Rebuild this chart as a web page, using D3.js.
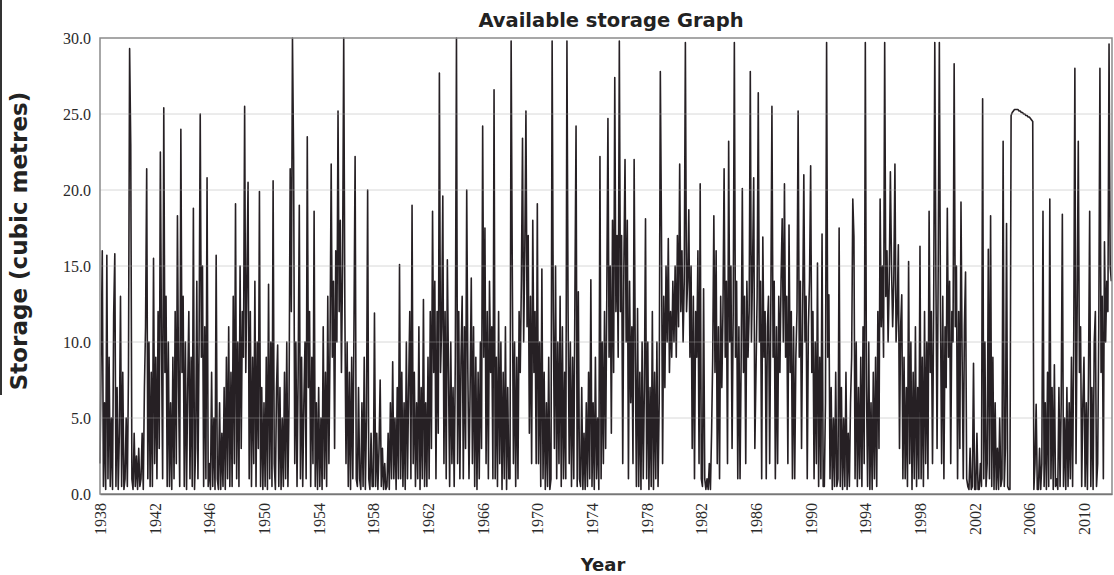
<!DOCTYPE html>
<html>
<head>
<meta charset="utf-8">
<script src="https://cdn.jsdelivr.net/npm/d3@7"></script>
<style>
    body { margin: 0; background: #fff; }
    svg { display: block; }
    .axes text { font-family: "Liberation Serif", "Times New Roman", serif; font-size: 16px; fill: #2a2a2a; }
    .axes-label { font-family: "DejaVu Sans", Verdana, sans-serif; font-weight: bold; fill: #222; }
</style>
</head>
<body>
<div id="vis"></div>
<script>
// monthly storage readings, one row per year
var firstYear = 1938;
var pointsPerYear = 12;

var storage1938to1947 = [
    [2, 9, 16, 0.5, 6, 0.3, 15.7, 1, 9, 0.5, 5, 0.3],
    [11.8, 15.8, 0.5, 7, 0.3, 4, 13, 0.5, 8, 0.3, 1, 5],
    [0.5, 8, 29.3, 23, 1, 0.3, 4, 0.5, 2.5, 0.3, 3, 0.5],
    [1, 4, 0.3, 7, 11, 21.4, 1, 10, 0.5, 8, 0.5, 15.5],
    [2, 9, 1, 12, 3, 22.5, 10, 1, 25.4, 8, 13, 0.5],
    [10, 0.5, 6, 0.3, 9, 1, 12, 2, 18.3, 7, 0.5, 24],
    [8, 13, 0.5, 10, 0.3, 7, 12, 1, 9, 0.5, 18.8, 0.3],
    [3, 14, 1, 10, 25, 9, 15, 0.5, 11, 1, 20.8, 0.5],
    [2, 0.3, 8, 0.5, 5, 0.3, 15.7, 1, 0.3, 6, 0.3, 4],
    [0.5, 7, 0.3, 9, 1, 11, 0.5, 8, 0.5, 13, 2, 19.1]
];
var storage1948to1957 = [
    [1, 10, 0.5, 15, 3, 12, 9, 25.5, 8, 14, 20.5, 1],
    [12, 0.5, 9, 2, 14, 0.5, 10, 3, 19.9, 0.5, 7, 0.3],
    [6, 0.5, 9, 0.3, 13.8, 1, 10, 0.5, 20.6, 2, 0.3, 7],
    [9.8, 0.5, 7, 0.3, 5, 0.5, 8, 1, 10, 0.5, 6, 21.4],
    [12, 30, 22, 2, 10, 0.5, 8, 19, 1, 9, 0.5, 6],
    [10, 1, 23.5, 7, 12, 0.5, 9, 2, 18.6, 0.5, 6, 0.3],
    [7, 0.5, 5, 0.3, 11, 1, 8, 0.5, 13, 2, 10, 21.7],
    [9, 14, 3, 16, 10, 25.2, 12, 18, 8, 15, 30, 12],
    [2, 10, 0.5, 8, 0.3, 9, 1, 11, 22.2, 1, 0.5, 7],
    [1, 0.3, 6, 0.5, 9, 0.3, 5, 20, 1, 0.3, 4, 0.5]
];
var storage1958to1967 = [
    [0.5, 11.9, 0.5, 4, 0.3, 3, 7.5, 0.5, 3, 0.3, 2, 0.3],
    [0.5, 4, 0.3, 6, 1, 8.7, 1, 5, 0.3, 7, 1, 15.1],
    [1, 8, 0.5, 6, 0.3, 10, 1, 7, 12, 1, 19, 2],
    [8, 0.5, 6, 1, 11, 0.3, 7, 1, 12.8, 0.5, 6, 0.5],
    [9, 1, 12, 3, 18.6, 8, 14, 1, 12, 4, 27.7, 8],
    [11, 19.6, 2, 12, 1, 15.4, 8, 0.5, 10, 2, 7, 0.5],
    [9, 30, 2, 12, 1, 9, 13, 1, 11, 3, 20, 8],
    [1, 7, 14.2, 2, 11, 0.5, 9, 0.3, 8, 1, 10, 3],
    [24.2, 9, 17.5, 2, 12, 1, 14, 8, 11, 1, 26.6, 1],
    [9, 0.5, 12, 2, 10, 0.3, 8, 1, 11, 0.3, 7, 1]
];
var storage1968to1977 = [
    [1, 29.8, 15, 2, 10, 0.5, 9, 1, 12, 8, 14, 23.4],
    [10, 16, 25.2, 11, 17, 4, 13, 2, 18, 8, 12, 2],
    [19.1, 2, 10, 0.5, 14.8, 1, 8, 0.3, 6, 0.5, 9, 0.3],
    [1, 29.8, 12, 3, 15, 1, 10, 2, 13, 0.5, 11, 1],
    [8, 1, 29.8, 12, 2, 10, 0.5, 9, 1, 13, 24.2, 0.5],
    [13.3, 1, 0.5, 7, 0.3, 4, 0.3, 6, 0.5, 8, 1, 14.1],
    [0.5, 6, 0.3, 9, 1, 5, 0.3, 22.2, 1, 10, 2, 12],
    [3, 13, 24.7, 9, 15, 4, 18, 8, 27.4, 12, 17, 9],
    [29.8, 12, 17, 2, 15, 22, 10, 18, 1, 14, 6, 11],
    [2, 22, 9, 0.5, 12.2, 0.5, 8, 0.3, 10, 1, 7, 18.1]
];
var storage1978to1987 = [
    [1, 10, 0.3, 7, 0.5, 12, 0.3, 8, 1, 10, 0.5, 6],
    [27.8, 17.3, 2, 13, 7, 15, 10, 16.8, 8, 12, 9, 14],
    [10, 15, 9, 17, 11, 21.7, 12, 16, 10, 14, 29.7, 12],
    [14, 18.7, 9, 15, 3, 13, 1, 12, 9, 16, 2, 20.4],
    [1, 0.5, 13.5, 1, 0.3, 1, 0.3, 2, 0.3, 4, 9, 18.3],
    [8, 16, 2, 11, 1, 13, 7, 12, 21.4, 9, 14, 2],
    [23.2, 10, 15, 3, 12, 29.7, 9, 14, 1, 11, 1, 9],
    [20.1, 8, 13, 2, 14, 9, 12, 27.8, 10, 15, 20.8, 3],
    [8, 13, 26.4, 10, 14, 1, 16.9, 9, 12, 1, 11, 13],
    [2, 12, 25.5, 9, 14, 1, 11, 2, 13, 8, 14, 18.1]
];
var storage1988to1997 = [
    [10, 20.4, 9, 13, 2, 17.7, 8, 12, 1, 11, 1, 9],
    [12, 25.2, 9, 14, 3, 12, 21, 10, 13, 1, 11, 14],
    [21.6, 8, 12, 1, 10, 2, 15.2, 0.5, 9, 1, 17.1, 0.5],
    [0.5, 6, 29.7, 9, 13.1, 1, 7, 0.3, 5, 0.5, 8, 0.5],
    [1, 17.5, 0.5, 7, 0.3, 5, 0.5, 8, 0.3, 4, 0.5, 6],
    [9, 19.4, 16.9, 1, 10, 0.5, 7, 1, 9, 0.5, 11, 2],
    [29.7, 7, 0.5, 10, 0.3, 6, 0.3, 8, 1, 9, 0.5, 12],
    [3, 19.4, 11, 15, 9, 29.7, 13, 16, 10, 14, 21.2, 15],
    [11, 14, 21.7, 10, 12, 16.4, 3, 11, 13.1, 1, 9, 1],
    [7, 0.5, 15.3, 2, 10, 0.3, 8, 1, 11, 0.5, 7, 1]
];
var storage1998to2007 = [
    [16.3, 1, 9, 0.5, 12, 2, 10, 1, 18.6, 8, 12, 2],
    [12, 29.7, 14, 3, 15, 29.7, 12, 2, 13, 1, 11, 7],
    [18.8, 9, 14, 2, 12, 10, 28.3, 11, 15, 1, 12, 3],
    [19.2, 9, 1, 11, 14.6, 1, 0.5, 0.3, 3, 0.3, 0.5, 8.6],
    [0.3, 0.3, 4, 0.3, 0.3, 2, 0.5, 26, 1, 10, 0.5, 2],
    [16.1, 1, 18.3, 0.5, 9, 0.3, 6, 0.3, 3, 0.3, 5, 0.5],
    [1, 23.2, 0.5, 3, 17.8, 0.5, 0.3, 0.3, 24.9, 25.1, 25.2, 25.3],
    [25.3, 25.3, 25.3, 25.2, 25.2, 25.1, 25.1, 25.0, 25.0, 24.9, 24.9, 24.8],
    [24.8, 24.7, 24.6, 24.5, 0.3, 2, 5.9, 0.3, 0.3, 3, 0.3, 2],
    [18.6, 0.5, 6, 0.3, 8, 0.5, 19.4, 1, 7, 0.3, 8.5, 0.5]
];
var storage2008to2012 = [
    [1, 0.3, 7, 0.5, 6, 18.4, 0.5, 5, 0.3, 7, 0.5, 6],
    [1, 9, 0.5, 10, 28, 2, 12, 23.2, 8, 11, 0.5, 6],
    [9, 0.5, 6, 0.3, 8, 18.6, 0.5, 7, 0.3, 10, 12, 0.5],
    [2, 11, 28, 8, 13, 1, 16.6, 10, 14, 12, 29.6, 15],
    [14]
];

var xTickYears = [1938, 1942, 1946, 1950, 1954, 1958, 1962, 1966, 1970, 1974,
    1978, 1982, 1986, 1990, 1994, 1998, 2002, 2006, 2010];
var yTickValues = [0, 5, 10, 15, 20, 25, 30];
var lastYear = 2012.05;

var rows = [].concat(storage1938to1947, storage1948to1957, storage1958to1967,
    storage1968to1977, storage1978to1987, storage1988to1997, storage1998to2007, storage2008to2012);
var values = [].concat.apply([], rows);
var data = values.map(function(v, i) {
    return { year: firstYear + i / pointsPerYear, value: v };
});

var svg = d3.select('#vis')
    .append('svg')
    .attr('width', 1114)
    .attr('height', 575);

var margin = { left: 100, right: 2, top: 38, bottom: 81 };
var width = 1114 - margin.left - margin.right;
var height = 575 - margin.top - margin.bottom;

var xScale = d3.scaleLinear().domain([firstYear, lastYear]).range([0, width]);
var yScale = d3.scaleLinear().domain([0, 30]).range([height, 0]);

var g = svg.append('g')
    .attr('transform', 'translate(' + margin.left + ',' + margin.top + ')');

// grid lines behind the series
g.selectAll('.grid')
    .data(yTickValues.slice(1, -1))
    .enter().append('line')
    .attr('class', 'grid')
    .attr('x1', 0).attr('x2', width)
    .attr('y1', function(d) { return yScale(d); })
    .attr('y2', function(d) { return yScale(d); })
    .attr('stroke', '#dcdcdc')
    .attr('stroke-width', 1);

var line = d3.line()
    .x(function(d) { return xScale(d.year); })
    .y(function(d) { return yScale(d.value); });

g.append('path')
    .datum(data)
    .attr('d', line)
    .attr('fill', 'none')
    .attr('stroke', '#262024')
    .attr('stroke-width', 1.6)
    .attr('stroke-linejoin', 'round');

// light grid marks show through the dark band in the scan
g.selectAll('.grid-over')
    .data(yTickValues.slice(1, -1))
    .enter().append('line')
    .attr('class', 'grid-over')
    .attr('x1', 0).attr('x2', width)
    .attr('y1', function(d) { return yScale(d); })
    .attr('y2', function(d) { return yScale(d); })
    .attr('stroke', '#e6e6e6')
    .attr('stroke-opacity', 0.3)
    .attr('stroke-width', 1);

// plot area frame
g.append('rect')
    .attr('x', 0).attr('y', 0)
    .attr('width', width).attr('height', height)
    .attr('fill', 'none')
    .attr('stroke', '#8a8a8a')
    .attr('stroke-width', 1.5);

var xAxis = d3.axisBottom(xScale)
    .tickValues(xTickYears)
    .tickFormat(d3.format('d'))
    .tickSize(0);

var yAxis = d3.axisLeft(yScale)
    .tickValues(yTickValues)
    .tickFormat(d3.format('.1f'))
    .tickSize(0);

var gx = svg.append('g')
    .attr('class', 'axes')
    .attr('transform', 'translate(' + margin.left + ',' + (margin.top + height) + ')')
    .call(xAxis);
gx.select('.domain').attr('stroke', '#777').attr('stroke-width', 1.5);
gx.selectAll('text')
    .attr('transform', 'rotate(-90)')
    .attr('x', -9)
    .attr('y', 0)
    .attr('dy', '0.35em')
    .style('text-anchor', 'end');

var gy = svg.append('g')
    .attr('class', 'axes')
    .attr('transform', 'translate(' + margin.left + ',' + margin.top + ')')
    .call(yAxis);
gy.select('.domain').remove();
gy.selectAll('text').attr('x', -9);

svg.append('text')
    .attr('class', 'axes-label')
    .attr('x', 611)
    .attr('y', 27)
    .style('font-size', '19.5px')
    .style('text-anchor', 'middle')
    .text('Available storage Graph');

svg.append('text')
    .attr('class', 'axes-label')
    .attr('x', 603)
    .attr('y', 571)
    .style('font-size', '18px')
    .style('text-anchor', 'middle')
    .text('Year');

svg.append('text')
    .attr('class', 'axes-label')
    .attr('transform', 'translate(27,241)rotate(-90)')
    .style('font-size', '23px')
    .style('text-anchor', 'middle')
    .text('Storage (cubic metres)');

// dark scan edge along the left side
svg.append('line')
    .attr('x1', 1).attr('x2', 1)
    .attr('y1', 0).attr('y2', 395)
    .attr('stroke', '#333')
    .attr('stroke-width', 2);
</script>
</body>
</html>
